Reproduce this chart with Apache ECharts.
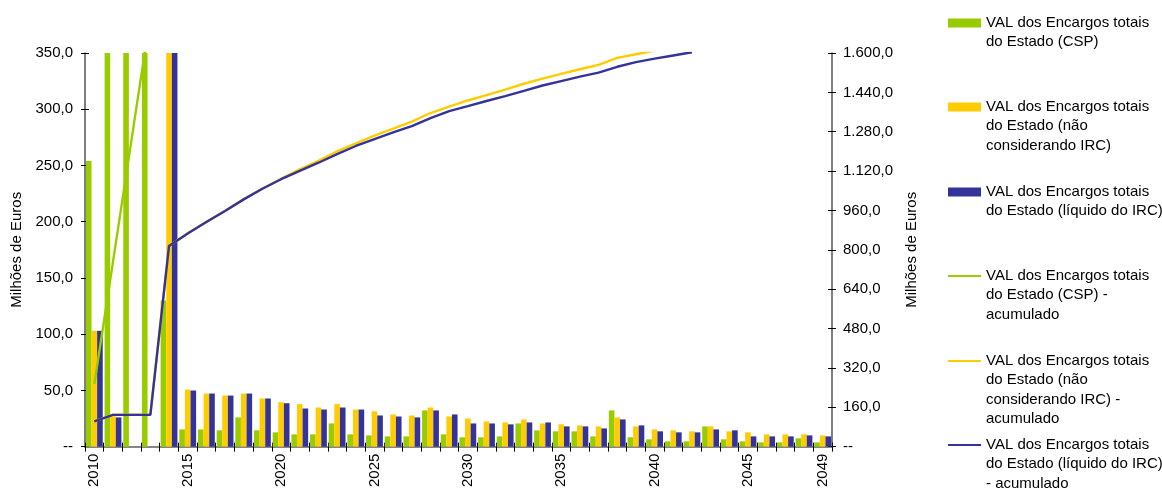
<!DOCTYPE html>
<html>
<head>
<meta charset="utf-8">
<script src="https://cdn.jsdelivr.net/npm/echarts@6/dist/echarts.min.js"></script>
<style>
  html, body { margin: 0; padding: 0; background: #fff; }
  #chart { width: 1162px; height: 490px; }
</style>
</head>
<body>
<div id="chart"></div>
<script>
// Years of the concession (category axis)
const years = ['2010','2011','2012','2013','2014','2015','2016','2017','2018','2019',
  '2020','2021','2022','2023','2024','2025','2026','2027','2028','2029',
  '2030','2031','2032','2033','2034','2035','2036','2037','2038','2039',
  '2040','2041','2042','2043','2044','2045','2046','2047','2048','2049'];

// Yearly present value of State charges, million euros (left axis)
const valCSP = [254, 498, 500, 500, 130, 15.3, 15.3, 14.5, 26.0, 14.5,
  12.7, 10.9, 10.9, 20.6, 10.9, 10.0, 9.1, 9.1, 32.2, 10.9,
  8.3, 8.3, 9.1, 20.6, 14.5, 13.6, 13.6, 9.1, 32.2, 8.3,
  6.5, 4.7, 4.7, 18.0, 6.5, 4.7, 3.8, 3.8, 7.4, 3.8];
const valSemIRC = [103, 27, 0, 0, 686, 50.7, 47.2, 45.4, 47.2, 42.8,
  39.5, 37.8, 34.8, 37.8, 33.0, 31.3, 28.6, 27.7, 34.8, 26.8,
  25.0, 22.4, 21.5, 24.2, 20.6, 19.8, 18.9, 18.0, 26.0, 18.0,
  15.3, 14.5, 13.6, 18.0, 13.6, 12.7, 10.9, 10.9, 10.9, 10.0];
const valLiqIRC = [103, 26, 0, 0, 687, 49.9, 47.2, 45.4, 47.2, 42.8,
  38.6, 33.9, 33.0, 34.8, 33.0, 27.7, 26.8, 26.0, 32.2, 28.6,
  20.6, 20.6, 19.8, 21.5, 21.5, 18.0, 18.0, 16.2, 24.2, 18.9,
  13.6, 12.7, 12.7, 15.3, 14.5, 9.1, 9.1, 9.1, 10.0, 9.1];

// Accumulated values, million euros (right axis)
const cumCSP = [254, 752, 1252, 1752];
const cumSemIRC = [103, 130, 130, 130, 816, 867, 914, 959, 1006, 1049,
  1089, 1127, 1162, 1200, 1233, 1264, 1293, 1321, 1356, 1382,
  1407, 1429, 1451, 1475, 1496, 1515, 1534, 1552, 1580, 1595,
  1610];
const cumLiqIRC = [103, 129, 129, 129, 816, 866, 913, 958, 1005, 1048,
  1087, 1121, 1154, 1189, 1222, 1250, 1277, 1303, 1335, 1364,
  1384, 1405, 1425, 1446, 1468, 1486, 1504, 1520, 1544, 1563,
  1577, 1590, 1603];

// Series names and their wrapped legend text
const names = [
  'VAL dos Encargos totais do Estado (CSP)',
  'VAL dos Encargos totais do Estado (não considerando IRC)',
  'VAL dos Encargos totais do Estado (líquido do IRC)',
  'VAL dos Encargos totais do Estado (CSP) - acumulado',
  'VAL dos Encargos totais do Estado (não considerando IRC) - acumulado',
  'VAL dos Encargos totais do Estado (líquido do IRC) - acumulado'
];
const legendText = [
  'VAL dos Encargos totais\ndo Estado (CSP)',
  'VAL dos Encargos totais\ndo Estado (não\nconsiderando IRC)',
  'VAL dos Encargos totais\ndo Estado (líquido do IRC)',
  'VAL dos Encargos totais\ndo Estado (CSP) -\nacumulado',
  'VAL dos Encargos totais\ndo Estado (não\nconsiderando IRC) -\nacumulado',
  'VAL dos Encargos totais\ndo Estado (líquido do IRC)\n- acumulado'
];

const GREEN = '#99CC00', YELLOW = '#FFCC00', NAVY = '#333399';
const colors = [GREEN, YELLOW, NAVY, GREEN, YELLOW, NAVY];
const FONT = "'Liberation Sans', Arial, sans-serif";
const FS = 15;
const LH = 19.3;

function fmtLeft(v) {
  return v === 0 ? '--' : v.toFixed(1).replace('.', ',');
}
function fmtRight(v) {
  if (v === 0) return '--';
  const intPart = Math.floor(v).toString().replace(/\B(?=(\d{3})+(?!\d))/g, '.');
  return intPart + ',' + (v.toFixed(1).split('.')[1]);
}

// One legend block per series; the text block is centred on the key, so
// blank lines are put before the text to bring its first line level with the key.
const legendCenters = [23, 107, 192, 276, 361, 445];
const legends = names.map((n, i) => {
  const lines = legendText[i].split('\n').length;
  const isLine = i >= 3;
  return {
    data: [{ name: n, icon: 'rect' }],
    orient: 'vertical',
    left: 948,
    top: legendCenters[i] - (2 * lines - 1) * LH / 2,
    padding: 0,
    itemWidth: 33,
    itemHeight: isLine ? 2 : 9,
    selectedMode: false,
    formatter: () => '\n'.repeat(lines - 1) + legendText[i],
    textStyle: { fontFamily: FONT, fontSize: FS, lineHeight: LH, color: '#000' }
  };
});

const axisLabelStyle = { fontFamily: FONT, fontSize: FS, color: '#000' };

const chart = echarts.init(document.getElementById('chart'));
chart.setOption({
  animation: false,
  backgroundColor: '#fff',
  color: colors,
  grid: { left: 85, right: 330, top: 53, bottom: 41 },
  legend: legends,
  xAxis: [
    {
      type: 'category',
      data: years,
      position: 'bottom',
      axisLine: { lineStyle: { color: '#858585', width: 2 } },
      axisTick: { show: true, interval: 0, inside: false, length: 5, lineStyle: { color: '#000' } },
      axisLabel: Object.assign({
        rotate: 90, margin: 7,
        interval: (i) => i % 5 === 0 || i === years.length - 1
      }, axisLabelStyle),
      splitLine: { show: false }
    },
    {
      type: 'category',
      data: years,
      position: 'bottom',
      axisLine: { show: false },
      axisTick: { show: true, interval: 0, inside: true, length: 4, lineStyle: { color: '#000' } },
      axisLabel: { show: false },
      splitLine: { show: false }
    }
  ],
  yAxis: [
    {
      type: 'value', position: 'left', min: 0, max: 350, interval: 50,
      name: 'Milhões de Euros', nameLocation: 'middle', nameGap: 53, nameRotate: 90,
      nameTextStyle: axisLabelStyle,
      axisLine: { show: true, lineStyle: { color: '#555', width: 1.5 } },
      axisTick: { show: true, inside: false, length: 4, lineStyle: { color: '#000' } },
      axisLabel: Object.assign({ formatter: fmtLeft, margin: 12 }, axisLabelStyle),
      splitLine: { show: false }
    },
    {
      type: 'value', position: 'right', min: 0, max: 1600, interval: 160,
      name: 'Milhões de Euros', nameLocation: 'middle', nameGap: 70, nameRotate: 90,
      nameTextStyle: axisLabelStyle,
      axisLine: { show: true, lineStyle: { color: '#555', width: 1.5 } },
      axisTick: { show: true, inside: false, length: 4, lineStyle: { color: '#000' } },
      axisLabel: Object.assign({ formatter: fmtRight, margin: 11 }, axisLabelStyle),
      splitLine: { show: false }
    },
    {
      type: 'value', position: 'left', min: 0, max: 350, interval: 50,
      axisLine: { show: false },
      axisTick: { show: true, inside: true, length: 4, lineStyle: { color: '#000' } },
      axisLabel: { show: false },
      splitLine: { show: false }
    },
    {
      type: 'value', position: 'right', min: 0, max: 1600, interval: 160,
      axisLine: { show: false },
      axisTick: { show: true, inside: true, length: 4, lineStyle: { color: '#000' } },
      axisLabel: { show: false },
      splitLine: { show: false }
    }
  ],
  series: [
    { name: names[0], type: 'bar', yAxisIndex: 0, data: valCSP,
      barGap: '0%', barCategoryGap: '10%', itemStyle: { color: GREEN }, clip: true },
    { name: names[1], type: 'bar', yAxisIndex: 0, data: valSemIRC,
      barGap: '0%', barCategoryGap: '10%', itemStyle: { color: YELLOW }, clip: true },
    { name: names[2], type: 'bar', yAxisIndex: 0, data: valLiqIRC,
      barGap: '0%', barCategoryGap: '10%', itemStyle: { color: NAVY }, clip: true },
    { name: names[3], type: 'line', yAxisIndex: 1, data: cumCSP, symbol: 'none',
      lineStyle: { color: GREEN, width: 2.4 }, itemStyle: { color: GREEN }, clip: true },
    { name: names[4], type: 'line', yAxisIndex: 1, data: cumSemIRC, symbol: 'none',
      lineStyle: { color: YELLOW, width: 2.4 }, itemStyle: { color: YELLOW }, clip: true },
    { name: names[5], type: 'line', yAxisIndex: 1, data: cumLiqIRC, symbol: 'none',
      lineStyle: { color: NAVY, width: 2.4 }, itemStyle: { color: NAVY }, clip: true }
  ]
});
</script>
</body>
</html>
